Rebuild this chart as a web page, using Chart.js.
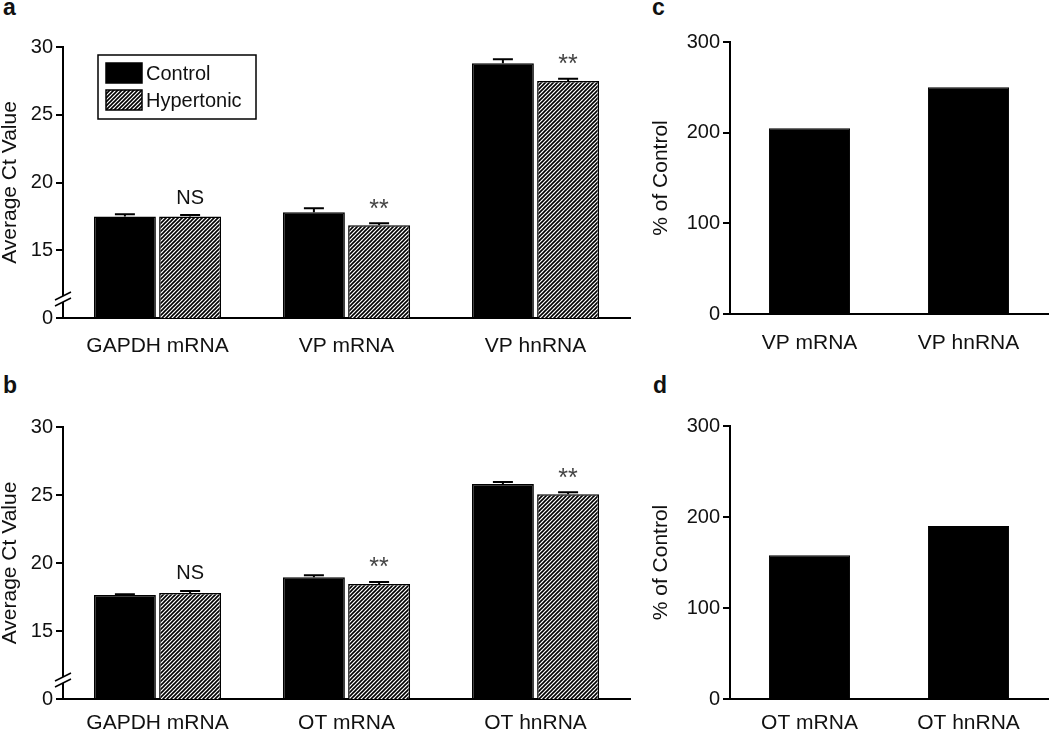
<!DOCTYPE html>
<html>
<head>
<meta charset="utf-8">
<script src="https://cdn.jsdelivr.net/npm/chart.js@4.4.0/dist/chart.umd.min.js"></script>
<style>
body { margin: 0; background: #fff; width: 1050px; height: 732px; position: relative; overflow: hidden; font-family: "Liberation Sans", Arial, sans-serif; }
canvas { position: absolute; }
.panel { position: absolute; font-weight: bold; font-size: 23px; line-height: 1; color: #111; }
</style>
</head>
<body>
<div class="panel" style="left:3px;top:-4px">a</div>
<div class="panel" style="left:3px;top:374px">b</div>
<div class="panel" style="left:652px;top:-4px">c</div>
<div class="panel" style="left:653px;top:374px">d</div>
<canvas id="chartA" width="645" height="370" style="left:0;top:0"></canvas>
<canvas id="chartB" width="645" height="362" style="left:0;top:370px"></canvas>
<canvas id="chartC" width="400" height="370" style="left:650px;top:0"></canvas>
<canvas id="chartD" width="400" height="362" style="left:650px;top:370px"></canvas>
<script>
// panel a - vasopressin
const catsA = ["GAPDH mRNA", "VP mRNA", "VP hnRNA"];
const controlA = [17.5, 17.8, 28.8];
const controlErrA = [0.15, 0.3, 0.3];
const hyperA = [17.5, 16.85, 27.5];
const hyperErrA = [0.1, 0.15, 0.15];
const sigA = ["NS", "**", "**"];

// panel b - oxytocin
const catsB = ["GAPDH mRNA", "OT mRNA", "OT hnRNA"];
const controlB = [17.65, 18.95, 25.8];
const controlErrB = [0.05, 0.15, 0.15];
const hyperB = [17.8, 18.45, 25.05];
const hyperErrB = [0.15, 0.15, 0.15];
const sigB = ["NS", "**", "**"];

// panels c, d - % of control
const catsC = ["VP mRNA", "VP hnRNA"];
const pctC = [205, 250];
const catsD = ["OT mRNA", "OT hnRNA"];
const pctD = [158, 190];

const ctTicks = [10, 15, 20, 25, 30];   // 10 is shown as "0" (broken axis)
const pctTicks = [0, 100, 200, 300];

const FONT = '"Liberation Sans", Arial, sans-serif';
Chart.defaults.font.family = FONT;
Chart.defaults.font.size = 20;
Chart.defaults.color = '#111';
Chart.defaults.animation = false;

function hatch() {
    const c = document.createElement('canvas');
    c.width = 4; c.height = 4;
    const g = c.getContext('2d');
    g.fillStyle = '#fff';
    g.fillRect(0, 0, 4, 4);
    g.strokeStyle = '#000';
    g.lineWidth = 1.6;
    g.beginPath();
    g.moveTo(-1, 5); g.lineTo(5, -1);
    g.moveTo(-1, 1); g.lineTo(1, -1);
    g.moveTo(3, 5); g.lineTo(5, 3);
    g.stroke();
    return g.createPattern(c, 'repeat');
}
const hatchFill = hatch();

const errBars = {
    id: 'errBars',
    afterDatasetsDraw(chart) {
        const ctx = chart.ctx, y = chart.scales.y;
        chart.data.datasets.forEach((ds, i) => {
            if (!ds.errors) return;
            chart.getDatasetMeta(i).data.forEach((bar, j) => {
                const top = y.getPixelForValue(ds.data[j] + ds.errors[j]);
                ctx.save();
                ctx.strokeStyle = '#000';
                ctx.lineWidth = 2;
                ctx.beginPath();
                ctx.moveTo(bar.x, bar.y);
                ctx.lineTo(bar.x, top);
                ctx.moveTo(bar.x - 10, top);
                ctx.lineTo(bar.x + 10, top);
                ctx.stroke();
                if (ds.sig) {
                    const ns = ds.sig[j] === 'NS';
                    ctx.fillStyle = ns ? '#111' : '#444';
                    ctx.font = (ns ? '20px ' : '25px ') + FONT;
                    ctx.textAlign = 'center';
                    ctx.textBaseline = 'bottom';
                    ctx.fillText(ds.sig[j], bar.x, top - (ns ? 7 : 1));
                }
                ctx.restore();
            });
        });
    }
};

const boxLegend = {
    id: 'boxLegend',
    afterDraw(chart) {
        const ctx = chart.ctx, a = chart.chartArea;
        const x0 = a.left + 35, y0 = a.top + 8;
        ctx.save();
        ctx.lineWidth = 1.5;
        ctx.strokeStyle = '#000';
        ctx.strokeRect(x0, y0, 158, 64);
        chart.data.datasets.forEach((ds, i) => {
            const sy = y0 + 8 + i * 27;
            ctx.fillStyle = ds.backgroundColor;
            ctx.fillRect(x0 + 8, sy, 36, 20);
            ctx.strokeRect(x0 + 8, sy, 36, 20);
            ctx.fillStyle = '#111';
            ctx.font = '20px ' + FONT;
            ctx.textBaseline = 'middle';
            ctx.fillText(ds.label, x0 + 48, sy + 11);
        });
        ctx.restore();
    }
};

const axisBreak = {
    id: 'axisBreak',
    afterDraw(chart) {
        const ctx = chart.ctx, x = chart.chartArea.left, yb = chart.scales.y.getPixelForValue(11.4);
        ctx.save();
        ctx.fillStyle = '#fff';
        ctx.fillRect(x - 2, yb - 3, 4, 6);
        ctx.strokeStyle = '#000';
        ctx.lineWidth = 1.5;
        ctx.beginPath();
        [-3, 3].forEach(d => {
            ctx.moveTo(x - 8, yb + d + 4);
            ctx.lineTo(x + 8, yb + d - 4);
        });
        ctx.stroke();
        ctx.restore();
    }
};

function ctChart(id, cats, ctrl, ctrlErr, hyp, hypErr, sig, top, xh, lblPad, legend) {
    const plugins = [errBars, axisBreak];
    if (legend) plugins.push(boxLegend);
    return new Chart(document.getElementById(id), {
        type: 'bar',
        data: {
            labels: cats,
            datasets: [
                { label: 'Control', data: ctrl, errors: ctrlErr, backgroundColor: '#000', borderColor: '#000', borderWidth: 1.5 },
                { label: 'Hypertonic', data: hyp, errors: hypErr, sig: sig, backgroundColor: hatchFill, borderColor: '#000', borderWidth: 1.5 }
            ]
        },
        options: {
            responsive: false,
            devicePixelRatio: 1,
            categoryPercentage: 0.69,
            barPercentage: 0.95,
            layout: { padding: { top: top, right: 15, left: 0, bottom: 0 } },
            plugins: { legend: { display: false }, tooltip: { enabled: false } },
            scales: {
                x: {
                    grid: { display: false },
                    border: { color: '#000', width: 2 },
                    ticks: { padding: lblPad, color: '#111', font: { size: 21 } },
                    afterFit: s => { s.height = xh; }
                },
                y: {
                    min: 10, max: 30,
                    afterBuildTicks: s => { s.ticks = ctTicks.map(v => ({ value: v })); },
                    ticks: { padding: 3, color: '#111', callback: v => v === 10 ? '0' : v },
                    grid: { drawOnChartArea: false, tickLength: 7, color: '#000', lineWidth: 2 },
                    border: { color: '#000', width: 2 },
                    title: { display: true, text: 'Average Ct Value', color: '#111', padding: { top: 0, bottom: 0 }, font: { size: 21, lineHeight: 1 } },
                    afterFit: s => { s.width = 63; }
                }
            }
        },
        plugins: plugins
    });
}

function pctChart(id, cats, vals, top, xh, lblPad) {
    return new Chart(document.getElementById(id), {
        type: 'bar',
        data: {
            labels: cats,
            datasets: [{ label: '% of Control', data: vals, backgroundColor: '#000', borderColor: '#000', borderWidth: 1 }]
        },
        options: {
            responsive: false,
            devicePixelRatio: 1,
            categoryPercentage: 0.51,
            barPercentage: 1,
            layout: { padding: { top: top, right: 2, left: 0, bottom: 0 } },
            plugins: { legend: { display: false }, tooltip: { enabled: false } },
            scales: {
                x: {
                    grid: { display: false },
                    border: { color: '#000', width: 2 },
                    ticks: { padding: lblPad, color: '#111', font: { size: 21 } },
                    afterFit: s => { s.height = xh; }
                },
                y: {
                    min: 0, max: 300,
                    afterBuildTicks: s => { s.ticks = pctTicks.map(v => ({ value: v })); },
                    ticks: { padding: 3, color: '#111' },
                    grid: { drawOnChartArea: false, tickLength: 7, color: '#000', lineWidth: 2 },
                    border: { color: '#000', width: 2 },
                    title: { display: true, text: '% of Control', color: '#111', padding: { top: 1, bottom: 0 }, font: { size: 21, lineHeight: 1 } },
                    afterFit: s => { s.width = 80; }
                }
            }
        }
    });
}

ctChart('chartA', catsA, controlA, controlErrA, hyperA, hyperErrA, sigA, 47, 52, 8, true);
ctChart('chartB', catsB, controlB, controlErrB, hyperB, hyperErrB, sigB, 57, 33, 4, false);
pctChart('chartC', catsC, pctC, 42, 56, 9);
pctChart('chartD', catsD, pctD, 56, 33, 4);
</script>
</body>
</html>
